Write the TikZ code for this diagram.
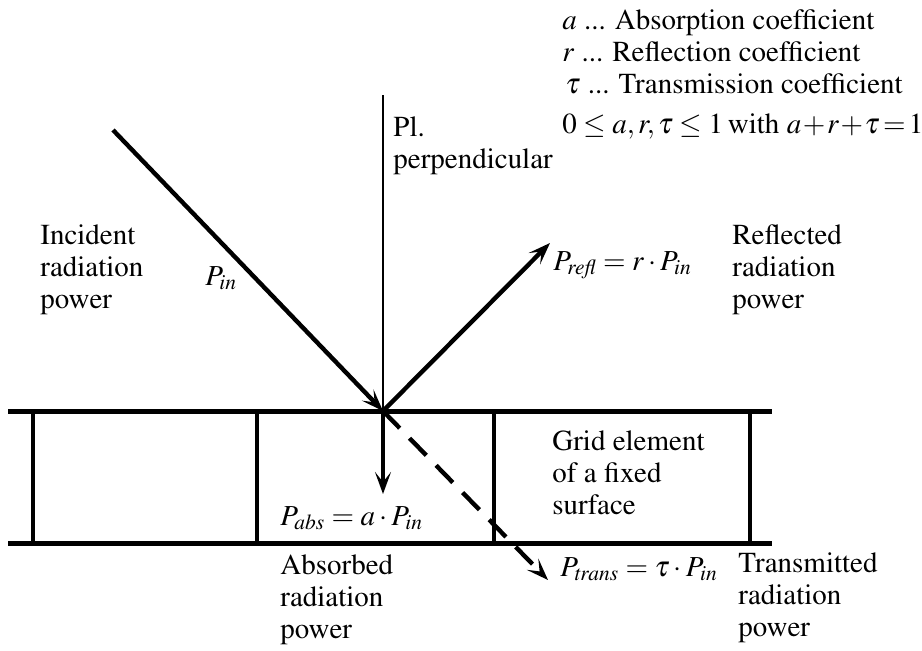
\documentclass[tikz,border=0pt]{standalone}
\usepackage[T1]{fontenc}
\usepackage{mathptmx}
\usetikzlibrary{arrows.meta}
\tikzset{
  txt/.style={inner sep=0pt, anchor=base west, align=left, font=\fontsize{14.5}{16}\selectfont},
  wall/.style={line width=2.5pt},
  cell/.style={line width=2pt},
  ray/.style={line width=2.2pt, -{Stealth[length=11pt,width=8pt,inset=5pt]}},
}
% multi-line labels sit on the baseline of their last line
\begin{document}
\begin{tikzpicture}[x=0.5pt, y=-0.5pt]
    \useasboundingbox (0,0) rectangle (922,650);
    % grid element
    \coordinate (wl) at (8,411);   \coordinate (wr) at (772,411);
    \coordinate (bl) at (8,543);   \coordinate (br) at (772,543);
    \draw[wall] (wl) -- (wr);
    \draw[wall] (bl) -- (br);
    \foreach \x in {33,257,494,750}
        \draw[cell] (\x,411) -- (\x,543);
    % rays
    \coordinate (hit) at (383,411);
    \coordinate (src) at (113,130);
    \coordinate (top) at (383,95);
    \coordinate (refl) at (550,243);
    \coordinate (abs) at (383,494);
    \coordinate (trans) at (548,580);
    \draw[line width=0.7pt] (top) -- (hit);
    \draw[ray] (src) -- (hit);
    \draw[ray] (hit) -- (refl);
    \draw[ray, line width=1.6pt] (hit) -- (abs);
    \draw[ray, dash pattern=on 12pt off 7pt] (hit) -- (trans);
    % labels
    \node[txt] (perp) at (393,168) {Pl.\\perpendicular};
    \node[txt] (inc) at (40,308) {Incident\\radiation\\power};
    \node[txt] (pin) at (205,285) {$P_{\mathit{in}}$};
    \node[txt] (prefl) at (553,270) {$P_{\mathit{refl}} = r\cdot P_{\mathit{in}}$};
    \node[txt] (refltxt) at (732,308) {Reflected\\radiation\\power};
    \node[txt] (grid) at (552,514) {Grid element\\of a fixed\\surface};
    \node[txt] (pabs) at (280,525) {$P_{\mathit{abs}} = a\cdot P_{\mathit{in}}$};
    \node[txt] (abstxt) at (280,638) {Absorbed\\radiation\\power};
    \node[txt] (ptrans) at (560,576) {$P_{\mathit{trans}} = \tau\cdot P_{\mathit{in}}$};
    \node[txt] (transtxt) at (738,636) {Transmitted\\radiation\\power};
    % legend
    \node[txt] (lega) at (562,29) {$a$ ... Absorption coefficient};
    \node[txt] (legr) at (562,61) {$r$ ... Reflection coefficient};
    \node[txt] (legt) at (565,93) {$\tau$ ... Transmission coefficient};
    \node[txt] (legsum) at (562,133)
        {$\thickmuskip=4mu 0 \le a, r, \tau \le 1$\,with
         $\thickmuskip=2mu \medmuskip=1mu a + r + \tau = 1$};
\end{tikzpicture}
\end{document}
